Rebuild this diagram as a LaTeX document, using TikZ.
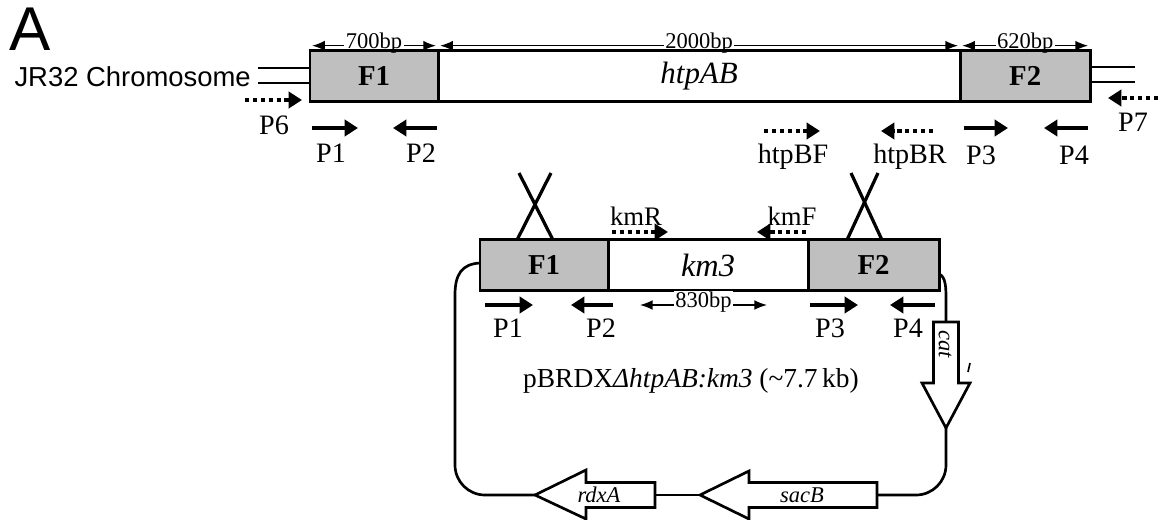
\documentclass[tikz,border=0pt]{standalone}
\usepackage{fontspec}
\setmainfont{Liberation Serif}
\newfontfamily\panelsans{Liberation Sans}
\usetikzlibrary{arrows.meta,positioning}

\begin{document}
\begin{tikzpicture}[x=0.025cm, y=-0.025cm,
    seg/.style={draw, line width=2.1pt, minimum height=1.27cm, inner sep=0pt, outer sep=0pt, font=\fontsize{22}{25}\selectfont},
    flank/.style={seg, fill=black!25, font=\fontsize{20.5}{24}\selectfont\bfseries},
    primer/.style={-{Triangle[length=9.5pt,width=11.5pt]}, line width=3pt},
    dprimer/.style={primer, dash pattern=on 3pt off 2.6pt},
    dim/.style={{Latex[length=9pt,width=7pt]}-{Latex[length=9pt,width=7pt]}, line width=1pt},
    dimlab/.style={font=\fontsize{16}{18}\selectfont, fill=white, inner xsep=1pt, inner ysep=0.5pt, text height=11pt, text depth=0pt, yshift=3.8pt},
    lab/.style={font=\fontsize{20}{23}\selectfont, inner sep=1pt},
    chrom/.style={line width=1.9pt},
    cross/.style={line width=2.3pt},
    backbone/.style={line width=1.9pt},
    gene/.style={draw, line width=1.9pt, fill=white},
    genelab/.style={font=\fontsize{16}{18}\selectfont\itshape, inner sep=0pt},
]
\useasboundingbox (0,0) rectangle (1167,520);

% panel letter and chromosome
\node[font=\panelsans\fontsize{44}{48}\selectfont, anchor=base west, inner sep=0pt] (panel) at (9,50) {A};
\node[font=\panelsans\fontsize{19.5}{22}\selectfont, anchor=east, inner sep=0pt] (jr32) at (251,77) {JR32 Chromosome};

\node[flank, minimum width=3.2cm, anchor=west] (f1) at (310,76) {F1};
\node[seg, minimum width=13.05cm, right=0pt of f1] (htp) {\itshape htpAB};
\node[flank, minimum width=3.25cm, right=0pt of htp] (f2) {F2};

\draw[chrom] (f1.west |- 0,68) -- ++(-52,0);
\draw[chrom] (f1.west |- 0,83) -- ++(-52,0);
\draw[chrom] (f2.east |- 0,67) -- ++(45,0);
\draw[chrom] (f2.east |- 0,82) -- ++(45,0);

\draw[dim] ([xshift=1.5pt,yshift=3.5pt]f1.north west) -- ([xshift=-1.5pt,yshift=3.5pt]f1.north east) node[dimlab, midway] {700bp};
\draw[dim] ([xshift=1.5pt,yshift=3.5pt]htp.north west) -- ([xshift=-1.5pt,yshift=3.5pt]htp.north east) node[dimlab, midway] {2000bp};
\draw[dim] ([xshift=1.5pt,yshift=3.5pt]f2.north west) -- ([xshift=-1.5pt,yshift=3.5pt]f2.north east) node[dimlab, midway] {620bp};

% primers on the chromosome
\draw[dprimer] (245,100) -- (302,100);
\node[lab] (p6) at (274,125) {P6};
\draw[primer] (312,128) -- (358,128);
\node[lab] (p1) at (331,153) {P1};
\draw[primer] (437,128) -- (393,128);
\node[lab] (p2) at (421,153) {P2};
\draw[dprimer] (764,131) -- (820,131);
\node[lab] (htpbf) at (793,157) {htpBF};
\draw[dprimer] (933,131) -- (881,131);
\node[lab] (htpbr) at (910,157) {htpBR};
\draw[primer] (964,128) -- (1008,128);
\node[lab] (p3) at (981,155) {P3};
\draw[primer] (1088,128) -- (1044,128);
\node[lab] (p4) at (1074,155) {P4};
\draw[dprimer] (1158,98) -- (1108,98);
\node[lab] (p7) at (1133,122) {P7};

% plasmid insert
\node[flank, minimum width=3.2cm, anchor=west] (f1k) at (480,265) {F1};
\node[seg, minimum width=5cm, right=0pt of f1k, font=\fontsize{23}{26}\selectfont] (km) {\itshape km3};
\node[flank, minimum width=3.275cm, right=0pt of km] (f2k) {F2};

\draw[cross] (517,240) -- (551,173);
\draw[cross] (553,240) -- (519,173);
\draw[cross] (847,240) -- (878,173);
\draw[cross] (882,240) -- (851,173);

\draw[dprimer] (612,232) -- (668,232);
\node[lab, font=\fontsize{19}{22}\selectfont] (kmr) at (636,216) {kmR};
\draw[dprimer] (806,232) -- (757,232);
\node[lab, font=\fontsize{19}{22}\selectfont] (kmf) at (792,216) {kmF};

\draw[primer] (485,305) -- (533,305);
\node[lab] (p1k) at (508,328) {P1};
\draw[primer] (613,305) -- (571,305);
\node[lab] (p2k) at (601,328) {P2};
\draw[dim] (640,305) -- (767,305) node[dimlab, midway] {830bp};
\draw[primer] (810,305) -- (858,305);
\node[lab] (p3k) at (830,328) {P3};
\draw[primer] (935,305) -- (890,305);
\node[lab] (p4k) at (908,328) {P4};

\node[font=\fontsize{19.5}{22}\selectfont, inner sep=0pt] (plasmid) at (691,381) {pBRDX\textit{\char"0394 htpAB:km3} ({\char"7E}7.7\,kb)};

% marker genes
\draw[gene] (535,495) coordinate (rdxtip) -- (586,470) -- (586,482.5) -- (655,482.5) -- (655,495) coordinate (rdxtail) -- (655,507.5) -- (586,507.5) -- (586,519) -- cycle;
\node[genelab] (rdxlab) at (599,495) {rdxA};
\draw[gene] (700,495) coordinate (sactip) -- (749,471) -- (749,482.5) -- (877,482.5) -- (877,495) coordinate (sactail) -- (877,507.5) -- (749,507.5) -- (749,519) -- cycle;
\node[genelab] (saclab) at (802,495) {sacB};
\draw[gene] (946,428) coordinate (cattip) -- (970,383) -- (958.5,383) -- (958.5,322) -- (946,322) coordinate (cattail) -- (933.5,322) -- (933.5,383) -- (922,383) -- cycle;
\node[genelab, rotate=-90] (catlab) at (945,344) {cat};
\draw[line width=1.2pt] (970,363) -- (968,372);

% plasmid backbone
\draw[backbone] (f1k.west |- 0,263) .. controls (462,264) and (455,274) .. (455,295) [rounded corners=0.75cm] -- (455,495) -- (rdxtip);
\draw[backbone] (rdxtail) -- (sactip);
\draw[backbone, rounded corners=0.75cm] (sactail) -- (946,495) -- (cattip);
\draw[backbone] (f2k.east |- 0,274) .. controls (946,277) and (946,288) .. (946,300) -- (cattail);
\end{tikzpicture}
\end{document}
